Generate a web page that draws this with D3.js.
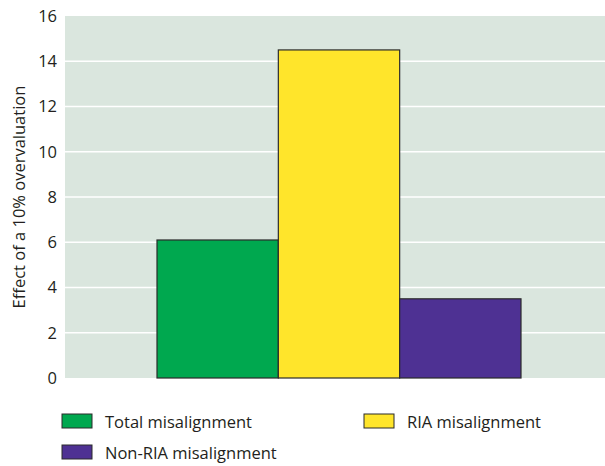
<!DOCTYPE html>
<html>
<head>
<meta charset="utf-8">
<script src="https://cdn.jsdelivr.net/npm/d3@7"></script>
<style>
  body { margin: 0; background: #fff; }
  svg { display: block; font-family: "Open Sans", "DejaVu Sans", sans-serif; }
</style>
</head>
<body>
<svg id="chart" width="605" height="466"></svg>
<script>
// Effect of a 10% overvaluation, by misalignment type
const categories = ["Total misalignment", "RIA misalignment", "Non-RIA misalignment"];
const values = [6.1, 14.5, 3.5];
const colors = ["#00a84f", "#ffe52b", "#4e3193"];
const yTicks = [0, 2, 4, 6, 8, 10, 12, 14, 16];

const svg = d3.select("#chart");
const plot = { left: 65, right: 605, top: 16, bottom: 378 };

const y = d3.scaleLinear().domain([0, 16]).range([plot.bottom, plot.top]);
const x = d3.scaleBand().domain(categories).range([157, 521]).padding(0);

// plot background
svg.append("rect")
  .attr("x", plot.left).attr("y", plot.top)
  .attr("width", plot.right - plot.left).attr("height", plot.bottom - plot.top)
  .attr("fill", "#dae6de");

// horizontal gridlines
svg.append("g").selectAll("line")
  .data(yTicks.filter(d => d > 0 && d < 16))
  .join("line")
  .attr("x1", plot.left).attr("x2", plot.right)
  .attr("y1", d => y(d)).attr("y2", d => y(d))
  .attr("stroke", "#fff").attr("stroke-width", 1.5);

// y axis labels
const yAxis = d3.axisLeft(y).tickValues(yTicks).tickSize(0).tickPadding(8);
const ga = svg.append("g").attr("transform", `translate(${plot.left},0)`).call(yAxis);
ga.select(".domain").remove();
ga.selectAll("text").attr("font-size", 16.5).attr("fill", "#231f20")
  .attr("font-family", "'Open Sans', sans-serif");

// y axis title
svg.append("text")
  .attr("transform", `translate(25,${(plot.top + plot.bottom) / 2}) rotate(-90)`)
  .attr("text-anchor", "middle")
  .attr("font-size", 16.5).attr("fill", "#231f20")
  .text("Effect of a 10% overvaluation");

// bars
svg.append("g").selectAll("rect")
  .data(values)
  .join("rect")
  .attr("x", (d, i) => x(categories[i]))
  .attr("y", d => y(d))
  .attr("width", x.bandwidth())
  .attr("height", d => y(0) - y(d))
  .attr("fill", (d, i) => colors[i])
  .attr("stroke", "#2b2b2b").attr("stroke-width", 1.2);

// legend
const legendPos = [
  { x: 62, y: 414 },
  { x: 364, y: 414 },
  { x: 62, y: 445 }
];
const lg = svg.append("g").selectAll("g")
  .data(categories)
  .join("g")
  .attr("transform", (d, i) => `translate(${legendPos[i].x},${legendPos[i].y})`);
lg.append("rect")
  .attr("width", 30).attr("height", 14)
  .attr("fill", (d, i) => colors[i])
  .attr("stroke", "#2b2b2b").attr("stroke-width", 1);
lg.append("text")
  .attr("x", 43).attr("y", 14)
  .attr("font-size", 16.5).attr("fill", "#231f20")
  .text(d => d);
</script>
</body>
</html>
